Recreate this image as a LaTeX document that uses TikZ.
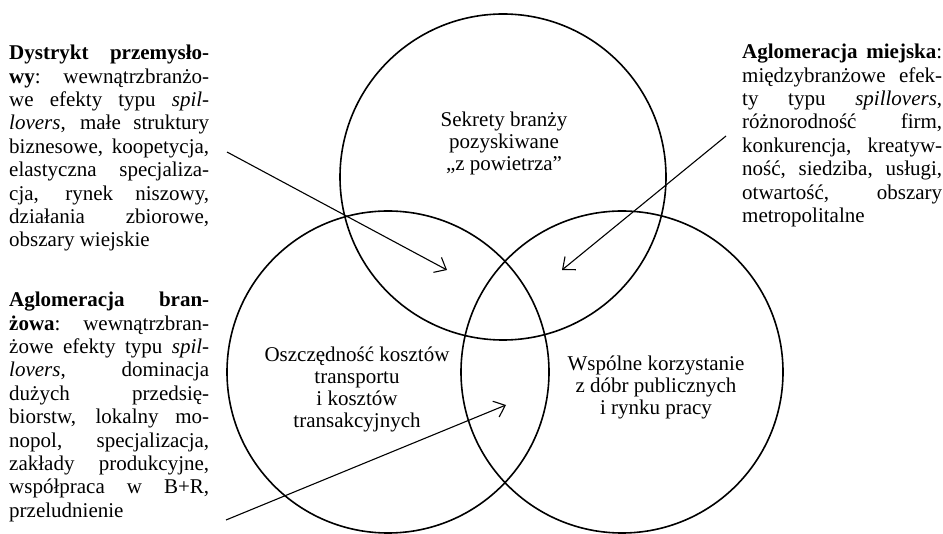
\documentclass[tikz,border=0pt]{standalone}
\usepackage{fontspec}
\setmainfont{Liberation Serif}
\usetikzlibrary{arrows.meta}
\begin{document}
\begin{tikzpicture}[x=1pt,y=-1pt,
  venn/.style={circle,draw,line width=1.6pt,inner sep=0pt,outer sep=0pt},
  ctext/.style={align=center,font=\fontsize{21}{22}\selectfont,inner sep=0pt},
  side/.style={anchor=north west,text width=200pt,align=justify,inner sep=0pt,font=\fontsize{21}{23.4}\selectfont},
  pointer/.style={line width=1.1pt,-{Straight Barb[length=10pt,width=17pt]}}]
\useasboundingbox (0,0) rectangle (943,534);

% circles
\node[venn,minimum size=326pt] (ctop) at (503,177) {};
\node[venn,minimum size=322pt] (cleft) at (388,372) {};
\node[venn,minimum size=322pt] (cright) at (622,372) {};

% circle texts
\node[ctext] (ttop) at (504,143) {Sekrety branży\\pozyskiwane\\„z powietrza”};
\node[ctext] (tleft) at (357,389) {Oszczędność kosztów\\transportu\\i kosztów\\transakcyjnych};
\node[ctext] (tright) at (656,387) {Wspólne korzystanie\\z dóbr publicznych\\i rynku pracy};

% side texts
\node[side] (dys) at (9,45) {\tolerance=10000 \textbf{Dystrykt przemysło-}\linebreak
\textbf{wy}: wewnątrzbranżo-\linebreak
we efekty typu \textit{spil-}\linebreak
\textit{lovers}, małe struktury\linebreak
biznesowe, koopetycja,\linebreak
elastyczna specjaliza-\linebreak
cja, rynek niszowy,\linebreak
działania zbiorowe,\linebreak
obszary wiejskie};

\node[side] (agb) at (9,292) {\tolerance=10000 \textbf{Aglomeracja bran-}\linebreak
\textbf{żowa}: wewnątrzbran-\linebreak
żowe efekty typu \textit{spil-}\linebreak
\textit{lovers}, dominacja\linebreak
dużych przedsię-\linebreak
biorstw, lokalny mo-\linebreak
nopol, specjalizacja,\linebreak
zakłady produkcyjne,\linebreak
współpraca w B+R,\linebreak
przeludnienie};

\node[side] (agm) at (742,44) {\tolerance=10000 \textbf{Aglomeracja miejska}:\linebreak
międzybranżowe efek-\linebreak
ty typu \textit{spillovers},\linebreak
różnorodność firm,\linebreak
konkurencja, kreatyw-\linebreak
ność, siedziba, usługi,\linebreak
otwartość, obszary\linebreak
metropolitalne};

% arrows
\coordinate (a1s) at (227,152);
\coordinate (a1e) at (447,270);
\coordinate (a2s) at (726,136);
\coordinate (a2e) at (562,270);
\coordinate (a3s) at (226,520);
\coordinate (a3e) at (506,405);
\draw[pointer] (a1s) -- (a1e);
\draw[pointer] (a2s) -- (a2e);
\draw[pointer] (a3s) -- (a3e);
\end{tikzpicture}
\end{document}
